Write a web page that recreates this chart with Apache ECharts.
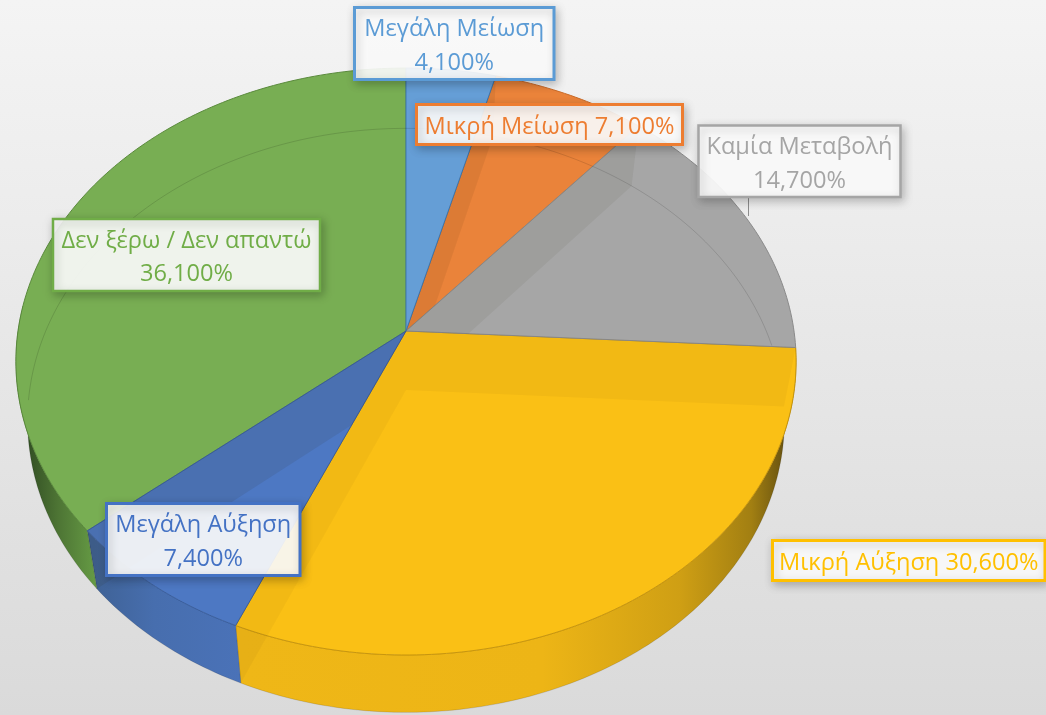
<!DOCTYPE html>
<html><head><meta charset="utf-8">
<style>html,body{margin:0;padding:0;background:#e6e6e6}#c{width:1046px;height:715px}</style>
<script src="https://cdn.jsdelivr.net/npm/echarts@6/dist/echarts.min.js"></script>
</head><body><div id="c"></div>
<script>
const categories = ['Μεγάλη Μείωση','Μικρή Μείωση','Καμία Μεταβολή','Μικρή Αύξηση','Μεγάλη Αύξηση','Δεν ξέρω / Δεν απαντώ'];
const values = [4.1, 7.1, 14.7, 30.6, 7.4, 36.1];
const labelTexts = ['Μεγάλη Μείωση\n4,100%','Μικρή Μείωση 7,100%','Καμία Μεταβολή\n14,700%','Μικρή Αύξηση 30,600%','Μεγάλη Αύξηση\n7,400%','Δεν ξέρω / Δεν απαντώ\n36,100%'];
const faceColors = ['#659ed6','#ea833a','#a6a6a6','#fac015','#4d78c3','#78ae53'];
const edgeColors = ['#3f78b0','#c96a28','#8a8a8a','#c9960c','#3a5f9f','#5a8a3c'];
const textColors = ['#5b9bd5','#ed7d31','#a5a5a5','#ffc000','#4472c4','#70ad47'];
const wallAlpha = [0.06,0.07,0.06,0.04,0.09,0];
const faceOrder = [3,1,2,1,2,0];
// label boxes: left, top, right, bottom
const labelBoxes = [[354.5,7.5,554,79.5],[416.5,104.5,682.5,144.5],[698.5,125.5,900.5,197],[772.5,540.5,1045,580.5],[106.5,503.5,300,575.5],[53,219,320,291]];
const labelBorders = [3,3,2.5,3,3,2.5];
const FONT = '23.6px "Open Sans","Noto Sans",sans-serif';

// projection of the tilted disc
const CX = 406, CY = 331, K = 0.104, RX = 388, RY = 290.3, DROP = 59;
function topPt(deg){
  const a = deg*Math.PI/180, u = Math.sin(a), v = Math.cos(a), w = 1+K*v;
  return [CX+RX*u/w, CY-RY*v/w];
}
function lowPt(deg){
  const p = topPt(deg);
  return [CX+0.97*(p[0]-CX), CY+DROP+0.995*(p[1]-CY)];
}
const total = values.reduce((a,b)=>a+b,0);
function span(i){
  let s = 0; for(let j=0;j<i;j++) s += values[j];
  return [s/total*360,(s+values[i])/total*360];
}
function arc(fn,a,b){
  const pts=[], n=Math.max(2,Math.ceil(Math.abs(b-a)));
  for(let i=0;i<=n;i++) pts.push(fn(a+(b-a)*i/n));
  return pts;
}
// keep the part of a polygon that lies on the clockwise (sign>0) side of the ray apex->q
function clipSide(poly,q,sign){
  const side=p=>sign*((q[0]-CX)*(p[1]-CY)-(q[1]-CY)*(p[0]-CX));
  const out=[];
  poly.forEach((p,i)=>{
    const n=poly[(i+1)%poly.length], sp=side(p), sn=side(n);
    if(sp>=-1e-6) out.push(p);
    if((sp>1e-6&&sn<-1e-6)||(sp<-1e-6&&sn>1e-6)){
      const t=sp/(sp-sn); out.push([p[0]+(n[0]-p[0])*t,p[1]+(n[1]-p[1])*t]);
    }
  });
  return out;
}
function wallPoly(d,a,b){
  let poly=[[CX,CY],topPt(d),lowPt(d),[CX,CY+DROP]];
  poly=clipSide(poly,topPt(a),1);
  poly=clipSide(poly,topPt(b),-1);
  return poly;
}
const LG = echarts.graphic.LinearGradient;
const rimFill = {
  3: new LG(240,0,790,0,[{offset:0,color:'#efb717'},{offset:.55,color:'#edb516'},{offset:.8,color:'#cf9f14'},{offset:.93,color:'#a27f12'},{offset:1,color:'#5f4c10'}],true),
  4: new LG(95,0,242,0,[{offset:0,color:'#3f6296'},{offset:.4,color:'#476eae'},{offset:1,color:'#4a72b8'}],true),
  5: new LG(20,0,95,0,[{offset:0,color:'#2c4620'},{offset:.5,color:'#4d7434'},{offset:1,color:'#659a44'}],true)
};
function itemSeries(z,render){
  return {type:'custom',coordinateSystem:'none',silent:true,z:z,clip:false,data:values,renderItem:render};
}
function sideItem(p,api){
  const i=p.dataIndex, [a,b]=span(i);
  if(!rimFill[i]||api.value(0)<=0) return null;
  const end=Math.min(b,275);
  return {type:'polygon',shape:{points:arc(topPt,a,end).concat(arc(lowPt,end,a))},
    style:{fill:rimFill[i],stroke:'rgba(0,0,0,.18)',lineWidth:.7}};
}
function faceItem(p,api){
  const i=p.dataIndex, [a,b]=span(i);
  return {type:'polygon',z2:faceOrder[i],shape:{points:[[CX,CY]].concat(arc(topPt,a,b))},
    style:{fill:faceColors[i],stroke:edgeColors[i],lineWidth:1}};
}
function wallItem(p,api){
  const i=p.dataIndex, [a,b]=span(i), ch=[];
  const fill='rgba(40,30,0,'+wallAlpha[i]+')';
  if(a>0.01&&a<180) ch.push({type:'polygon',shape:{points:wallPoly(a,a,b)},style:{fill}});
  if(b>180&&b<359.9) ch.push({type:'polygon',shape:{points:wallPoly(b,a,b)},style:{fill}});
  return {type:'group',children:ch};
}
function ringItem(p,api){
  const i=p.dataIndex, [a,b]=span(i);
  let s=a, e=b;
  if(i===5) s=Math.max(a,268);
  if(i===2) e=Math.min(b,81);
  if(i===3||i===4) return null;
  return {type:'polyline',shape:{points:arc(lowPt,s,e)},style:{fill:null,stroke:'rgba(0,0,0,.13)',lineWidth:1}};
}
function labelItem(p,api){
  const i=p.dataIndex, [x0,y0,x1,y1]=labelBoxes[i];
  const lines=labelTexts[i].split('\n');
  const cx=(x0+x1)/2, cy=(y0+y1)/2+3, lh=33.5;
  const ch=[{type:'rect',shape:{x:x0,y:y0,width:x1-x0,height:y1-y0},
    style:{fill:'rgba(255,255,255,.9)',stroke:textColors[i],lineWidth:labelBorders[i],shadowBlur:9,shadowOffsetX:2,shadowOffsetY:3,shadowColor:'rgba(0,0,0,.25)'}}];
  lines.forEach((t,k)=>ch.push({type:'text',style:{text:t,x:cx,y:cy+(k-(lines.length-1)/2)*lh,
    align:'center',verticalAlign:'middle',font:FONT,fill:textColors[i]}}));
  return {type:'group',children:ch};
}
const chart = echarts.init(document.getElementById('c'),null,{renderer:'canvas',width:1046,height:715});
chart.setOption({
  animation:false,
  backgroundColor:new LG(0,0,0,1,[{offset:0,color:'#f4f4f4'},{offset:1,color:'#dadada'}]),
  graphic:[{type:'line',z:3,silent:true,shape:{x1:748.5,y1:197,x2:748.5,y2:216},style:{stroke:'#8c8c8c',lineWidth:1}}],
  series:[
    itemSeries(1,sideItem),
    itemSeries(2,faceItem),
    itemSeries(4,wallItem),
    itemSeries(5,ringItem),
    itemSeries(6,labelItem)
  ]
});
</script></body></html>
